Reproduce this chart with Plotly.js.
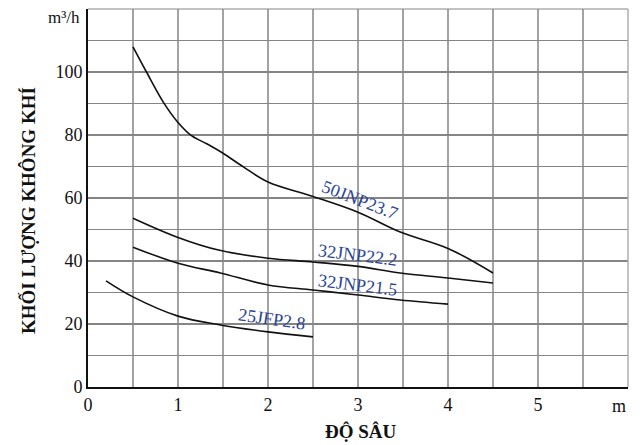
<!DOCTYPE html>
<html>
<head>
<meta charset="utf-8">
<script src="https://cdn.plot.ly/plotly-3.0.1.min.js"></script>
<style>html,body{margin:0;padding:0;background:#fff;}#chart{width:643px;height:445px;}</style>
</head>
<body>
<div id="chart"></div>
<script>
// Series data
const depth50 = [0.5, 0.65, 0.84, 1.0, 1.15, 1.32, 1.5, 1.73, 2.0, 2.5, 3.0, 3.47, 4.0, 4.5];
const flow50  = [108, 100, 90.3, 84, 79.8, 77.2, 74.2, 69.8, 65.1, 60.5, 55.5, 49.2, 44, 36.2];

const depth322 = [0.5, 1.0, 1.45, 2.0, 2.5, 3.0, 3.47, 4.0, 4.5];
const flow322  = [53.6, 47.5, 43.5, 40.9, 39.7, 38.3, 36.2, 34.6, 33.0];

const depth215 = [0.5, 1.0, 1.47, 2.0, 2.5, 3.0, 3.47, 4.0];
const flow215  = [44.4, 39.3, 36.2, 32.4, 30.8, 29.2, 27.6, 26.3];

const depth28 = [0.2, 0.5, 1.0, 1.47, 2.0, 2.5];
const flow28  = [33.7, 28.6, 22.5, 19.7, 17.5, 15.9];

const seriesNames = ["50JNP23.7", "32JNP22.2", "32JNP21.5", "25JFP2.8"];
const labelX = [3.02, 3.0, 3.0, 2.04];
const labelY = [59.3, 41.9, 32.4, 21.5];
const labelAngle = [21, 7, 7, 8];

const xTickLabels = ["0", "1", "2", "3", "4", "5"];
const yTickLabels = ["0", "20", "40", "60", "80", "100"];

const serif = 'Liberation Serif, Times New Roman, serif';
const lineStyle = {color: '#111', width: 1.6, shape: 'spline', smoothing: 1};
const traces = [
  [depth50, flow50], [depth322, flow322], [depth215, flow215], [depth28, flow28]
].map((d, i) => ({
  x: d[0], y: d[1], type: 'scatter', mode: 'lines', name: seriesNames[i],
  line: lineStyle, hoverinfo: 'skip'
}));

// grid every 0.5 on x and every 10 on y, labels only on the labelled values
const xVals = [], xText = [];
for (let k = 0; k <= 12; k++) {
  const v = k * 0.5;
  xVals.push(v);
  xText.push(Number.isInteger(v) && v < xTickLabels.length ? xTickLabels[v] : '');
}
const yVals = [], yText = [];
for (let k = 0; k <= 12; k++) {
  const v = k * 10;
  yVals.push(v);
  yText.push(v % 20 === 0 && v / 20 < yTickLabels.length ? yTickLabels[v / 20] : '');
}

const labelFont = {family: serif, size: 18, color: '#2b4495'};
const annotations = seriesNames.map((n, i) => ({
  x: labelX[i], y: labelY[i], xref: 'x', yref: 'y', text: n, showarrow: false,
  textangle: labelAngle[i], font: labelFont
}));
annotations.push({
  xref: 'paper', yref: 'paper', x: 0, y: 0.977, xanchor: 'right', yanchor: 'middle',
  xshift: -6, text: 'm³/h', showarrow: false,
  font: {family: serif, size: 17, color: '#111'}
});
annotations.push({
  xref: 'paper', yref: 'paper', x: 0.983, y: 0, xanchor: 'center', yanchor: 'top',
  yshift: -7, text: 'm', showarrow: false,
  font: {family: serif, size: 18, color: '#111'}
});
annotations.push({
  xref: 'paper', yref: 'paper', x: 0.506, y: -0.118, xanchor: 'center', yanchor: 'middle',
  text: '<b>ĐỘ SÂU</b>', showarrow: false,
  font: {family: serif, size: 19, color: '#111'}
});
annotations.push({
  xref: 'paper', yref: 'paper', x: -0.109, y: 0.466, xanchor: 'center', yanchor: 'middle',
  text: '<b>KHỐI LƯỢNG KHÔNG KHÍ</b>', textangle: -90, showarrow: false,
  font: {family: serif, size: 19, color: '#111'}
});

const xGridGray = '#a3a3a3';
const yGridGray = '#858585';
const layout = {
  width: 643, height: 445,
  margin: {l: 88, r: 15, t: 9, b: 58},
  paper_bgcolor: '#fff', plot_bgcolor: '#fff',
  showlegend: false,
  font: {family: serif, size: 18, color: '#111'},
  xaxis: {
    range: [0, 6], tickmode: 'array', tickvals: xVals, ticktext: xText,
    showgrid: true, gridcolor: xGridGray, gridwidth: 1.3, zeroline: false,
    showline: true, linecolor: '#111', linewidth: 2, mirror: false,
    ticks: '', ticklen: 0, tickfont: {family: serif, size: 18, color: '#111'},
    fixedrange: true
  },
  yaxis: {
    range: [0, 120], tickmode: 'array', tickvals: yVals, ticktext: yText,
    showgrid: true, gridcolor: yGridGray, gridwidth: 1.2,
    zeroline: false, showline: true, linecolor: '#111', linewidth: 2,
    ticks: '', ticklen: 0, tickfont: {family: serif, size: 18, color: '#111'},
    fixedrange: true
  },
  annotations: annotations,
  shapes: [
    {type: 'line', xref: 'paper', yref: 'paper', x0: 0, x1: 1, y0: 1, y1: 1, line: {color: yGridGray, width: 1.2}},
    {type: 'line', xref: 'paper', yref: 'paper', x0: 1, x1: 1, y0: 0, y1: 1, line: {color: xGridGray, width: 1.3}}
  ]
};

Plotly.newPlot('chart', traces, layout, {staticPlot: true, displayModeBar: false});
</script>
</body>
</html>
